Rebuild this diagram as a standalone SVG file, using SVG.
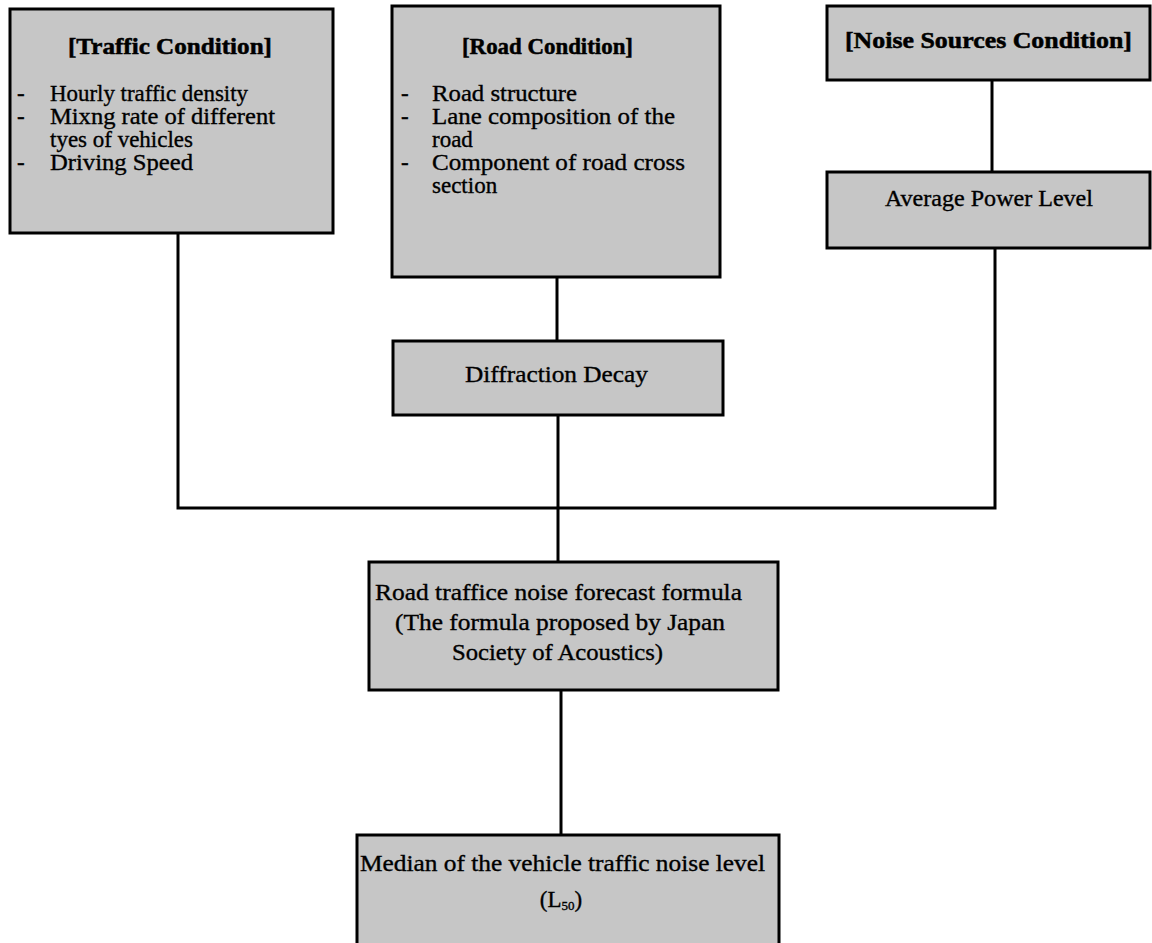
<svg xmlns="http://www.w3.org/2000/svg" width="1152" height="943" viewBox="0 0 1152 943">
<style>
.box{fill:#c6c6c6;stroke:#000;stroke-width:3}
.t{font-family:"Liberation Serif","Times New Roman",serif;font-size:23px;fill:#000;stroke:#000;stroke-width:0.35}
.h{font-weight:bold;stroke-width:0.5}
.c{text-anchor:middle}
.ln{fill:none;stroke:#000;stroke-width:3}
</style>
<rect width="1152" height="943" fill="#fff"/>
<g id="connectors">
<polyline class="ln" points="178,233 178,508 995,508 995,248"/>
<line class="ln" x1="992" y1="80" x2="992" y2="172"/>
<line class="ln" x1="557" y1="277" x2="557" y2="341"/>
<line class="ln" x1="558" y1="415" x2="558" y2="562"/>
<line class="ln" x1="561" y1="690" x2="561" y2="835"/>
</g>
<g id="traffic">
<rect class="box" x="10" y="9" width="323" height="224"/>
<text class="t h" x="68" y="54" textLength="204" lengthAdjust="spacingAndGlyphs">[Traffic Condition]</text>
<text class="t" x="17" y="101">-</text><text class="t" x="50" y="101" textLength="198" lengthAdjust="spacingAndGlyphs">Hourly traffic density</text>
<text class="t" x="17" y="124">-</text><text class="t" x="50" y="124" textLength="225" lengthAdjust="spacingAndGlyphs">Mixng rate of different</text>
<text class="t" x="50" y="147" textLength="143" lengthAdjust="spacingAndGlyphs">tyes of vehicles</text>
<text class="t" x="17" y="170">-</text><text class="t" x="50" y="170" textLength="143" lengthAdjust="spacingAndGlyphs">Driving Speed</text>
</g>
<g id="road">
<rect class="box" x="392" y="6" width="328" height="271"/>
<text class="t h" x="462" y="54" textLength="171" lengthAdjust="spacingAndGlyphs">[Road Condition]</text>
<text class="t" x="401" y="101">-</text><text class="t" x="432" y="101" textLength="145" lengthAdjust="spacingAndGlyphs">Road structure</text>
<text class="t" x="401" y="124">-</text><text class="t" x="432" y="124" textLength="243" lengthAdjust="spacingAndGlyphs">Lane composition of the</text>
<text class="t" x="432" y="147">road</text>
<text class="t" x="401" y="170">-</text><text class="t" x="432" y="170" textLength="253" lengthAdjust="spacingAndGlyphs">Component of road cross</text>
<text class="t" x="432" y="193">section</text>
</g>
<g id="noise">
<rect class="box" x="827" y="6" width="323" height="74"/>
<text class="t h" x="845" y="48" textLength="287" lengthAdjust="spacingAndGlyphs">[Noise Sources Condition]</text>
</g>
<g id="power">
<rect class="box" x="827" y="172" width="323" height="76"/>
<text class="t" x="885" y="206" textLength="208" lengthAdjust="spacingAndGlyphs">Average Power Level</text>
</g>
<g id="diffraction">
<rect class="box" x="393" y="341" width="330" height="74"/>
<text class="t" x="465" y="382" textLength="183" lengthAdjust="spacingAndGlyphs">Diffraction Decay</text>
</g>
<g id="formula">
<rect class="box" x="369" y="562" width="409" height="128"/>
<text class="t" x="375" y="600" textLength="367" lengthAdjust="spacingAndGlyphs">Road traffice noise forecast formula</text>
<text class="t" x="395" y="630" textLength="330" lengthAdjust="spacingAndGlyphs">(The formula proposed by Japan</text>
<text class="t" x="452" y="660" textLength="211" lengthAdjust="spacingAndGlyphs">Society of Acoustics)</text>
</g>
<g id="median">
<rect class="box" x="357" y="835" width="422" height="115"/>
<text class="t" x="360" y="871" textLength="405" lengthAdjust="spacingAndGlyphs">Median of the vehicle traffic noise level</text>
<text class="t c" x="561" y="907">(L<tspan font-size="13" dy="3">50</tspan><tspan dy="-3">)</tspan></text>
</g>
</svg>
